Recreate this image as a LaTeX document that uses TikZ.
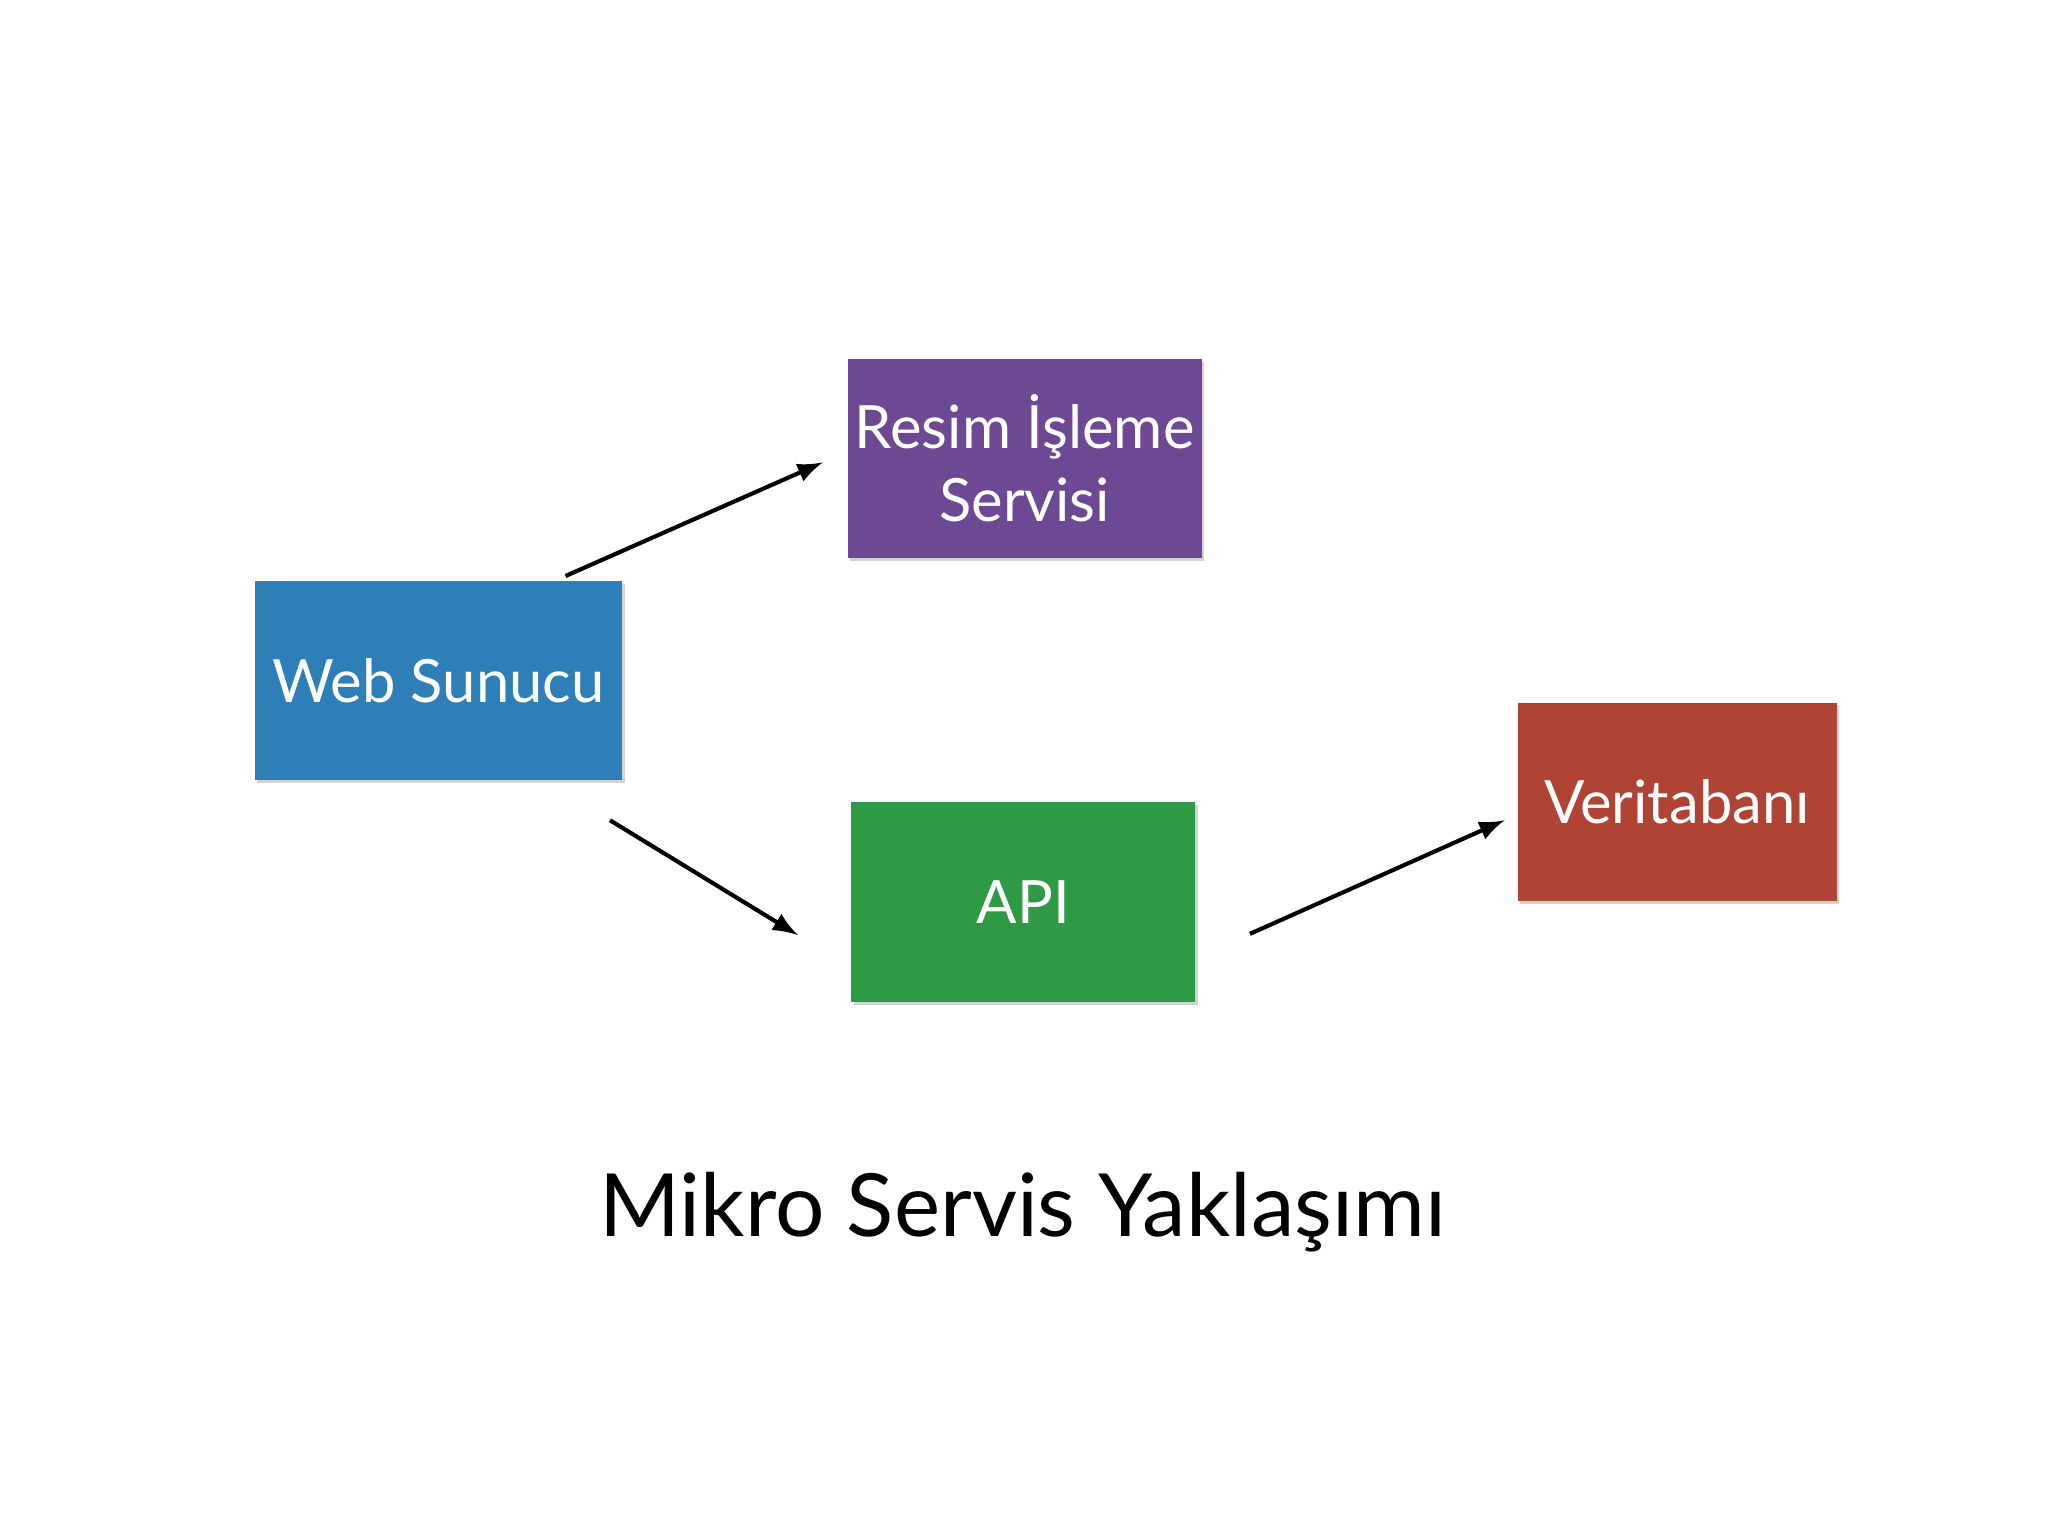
\documentclass[tikz,border=0pt]{standalone}
\usepackage{fontspec}
\setmainfont{Lato}
\usetikzlibrary{shadows}
\definecolor{cblue}{HTML}{2E7EB8}
\definecolor{cpurple}{HTML}{6C4992}
\definecolor{cgreen}{HTML}{2F9A45}
\definecolor{cred}{HTML}{B04434}
\begin{document}
\begin{tikzpicture}[x=0.01cm,y=-0.01cm,
  box/.style={draw=none,text=white,font=\fontsize{13}{16}\selectfont,align=center,inner sep=0pt,
    drop shadow={shadow xshift=0.6pt,shadow yshift=-0.6pt,opacity=0.35}},
  arr/.style={-latex,line width=0.9pt}]
\useasboundingbox[fill=white] (0,0) rectangle (1568,1176);
\node[box,fill=cblue,minimum width=2.81cm,minimum height=1.52cm] (web) at (335.5,521) {Web Sunucu};
\node[box,fill=cpurple,minimum width=2.71cm,minimum height=1.52cm] (res) at (784.5,351) {Resim İşleme\\Servisi};
\node[box,fill=cgreen,minimum width=2.63cm,minimum height=1.53cm] (api) at (783.5,690.5) {API};
\node[box,fill=cred,minimum width=2.44cm,minimum height=1.52cm] (db) at (1284,614) {Veritabanı};
\coordinate (a1s) at (433,441); \coordinate (a1e) at (630,354);
\coordinate (a2s) at (467,628); \coordinate (a2e) at (611,716);
\coordinate (a3s) at (957,715); \coordinate (a3e) at (1152,628);
\draw[arr] (a1s) -- (a1e);
\draw[arr] (a2s) -- (a2e);
\draw[arr] (a3s) -- (a3e);
\node[font=\fontsize{19}{22}\selectfont] (title) at (783,928) {Mikro Servis Yaklaşımı};
\end{tikzpicture}
\end{document}
